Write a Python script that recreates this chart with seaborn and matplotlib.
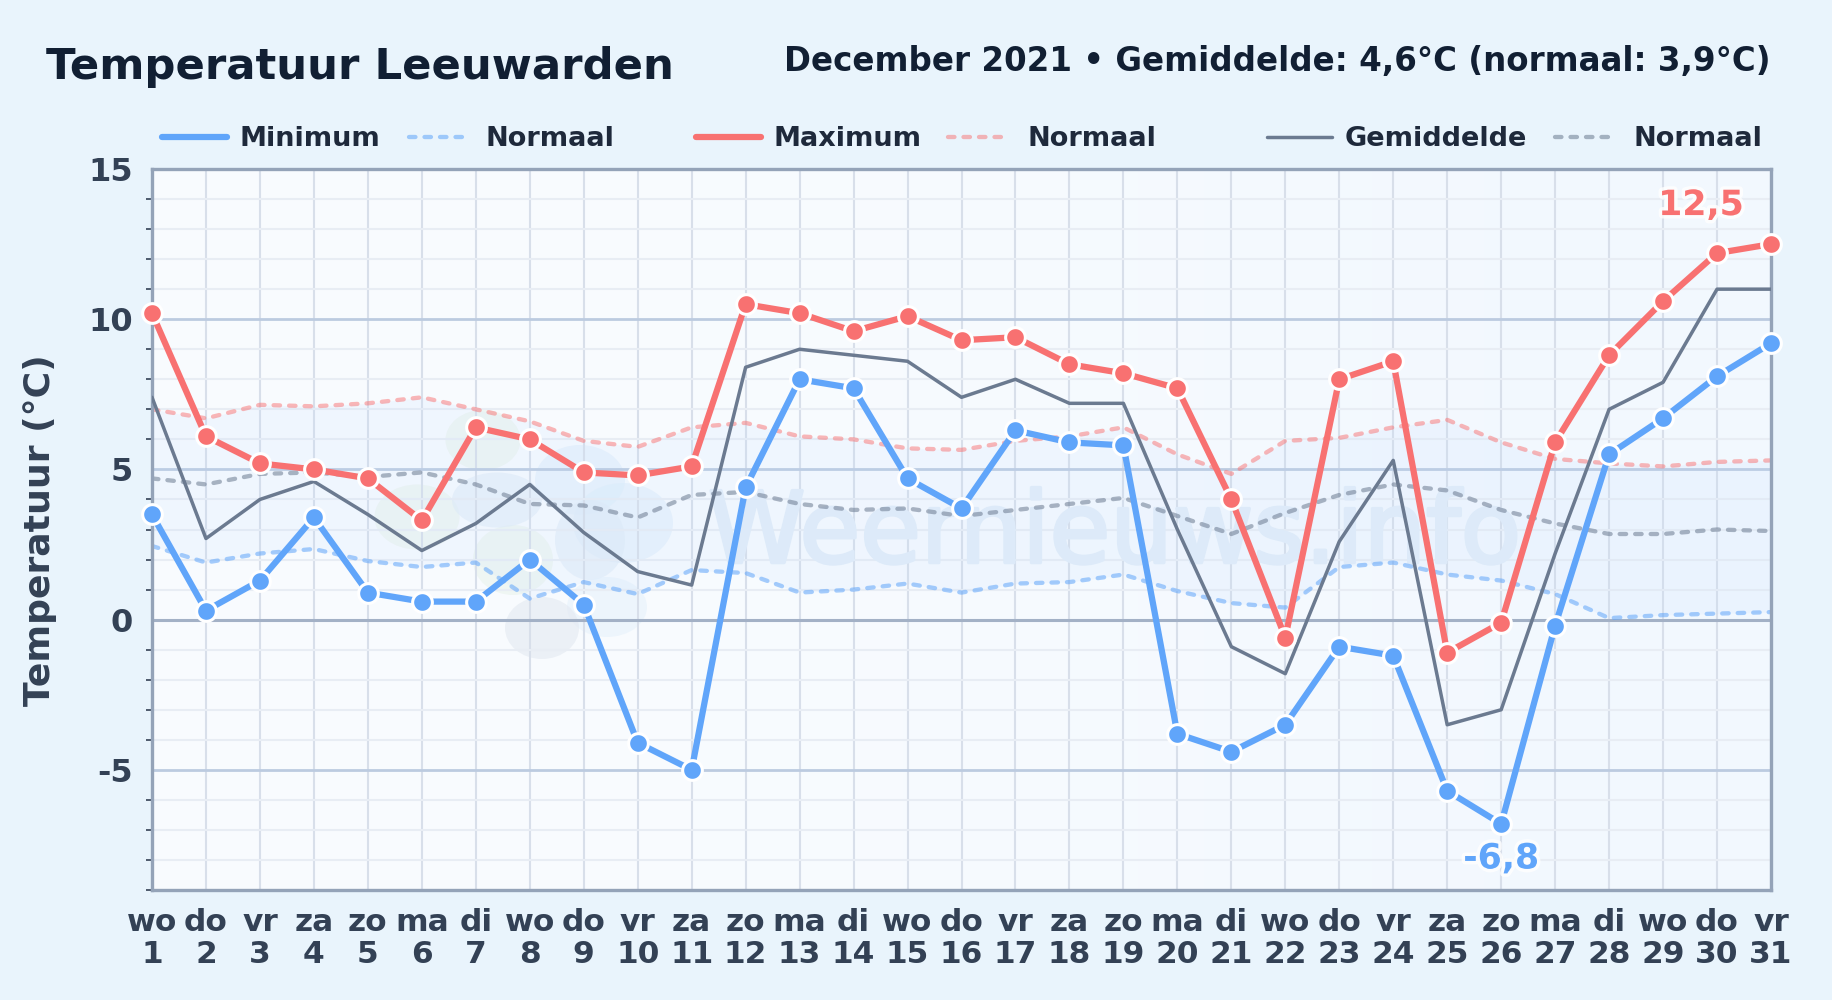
import numpy as np
import pandas as pd
import matplotlib.pyplot as plt
import matplotlib.patheffects as pe
from matplotlib.colors import LinearSegmentedColormap
from matplotlib.patches import Ellipse
from matplotlib.ticker import MultipleLocator
import seaborn as sns

days = list(range(1, 32))
weekdays = ['wo', 'do', 'vr', 'za', 'zo', 'ma', 'di'] * 4 + ['wo', 'do', 'vr']

temp_min = [3.5, 0.3, 1.3, 3.4, 0.9, 0.6, 0.6, 2.0, 0.5, -4.1, -5.0, 4.4, 8.0, 7.7, 4.7, 3.7,
            6.3, 5.9, 5.8, -3.8, -4.4, -3.5, -0.9, -1.2, -5.7, -6.8, -0.2, 5.5, 6.7, 8.1, 9.2]
temp_max = [10.2, 6.1, 5.2, 5.0, 4.7, 3.3, 6.4, 6.0, 4.9, 4.8, 5.1, 10.5, 10.2, 9.6, 10.1, 9.3,
            9.4, 8.5, 8.2, 7.7, 4.0, -0.6, 8.0, 8.6, -1.1, -0.1, 5.9, 8.8, 10.6, 12.2, 12.5]
temp_mean = [7.4, 2.7, 4.0, 4.6, 3.5, 2.3, 3.2, 4.5, 2.9, 1.6, 1.15, 8.4, 9.0, 8.8, 8.6, 7.4,
             8.0, 7.2, 7.2, 3.0, -0.9, -1.8, 2.6, 5.3, -3.5, -3.0, 2.2, 7.0, 7.9, 11.0, 11.0]
norm_min = [2.45, 1.9, 2.2, 2.35, 1.95, 1.75, 1.9, 0.7, 1.25, 0.85, 1.65, 1.55, 0.9, 1.0, 1.2, 0.9,
            1.2, 1.25, 1.5, 0.95, 0.55, 0.4, 1.75, 1.9, 1.5, 1.3, 0.85, 0.05, 0.15, 0.2, 0.25]
norm_max = [7.0, 6.7, 7.15, 7.1, 7.2, 7.4, 7.0, 6.6, 5.95, 5.75, 6.4, 6.55, 6.1, 6.0, 5.7, 5.65,
            5.95, 6.1, 6.4, 5.5, 4.85, 5.95, 6.05, 6.4, 6.65, 5.9, 5.35, 5.2, 5.1, 5.25, 5.3]
norm_mean = [4.7, 4.5, 4.85, 4.9, 4.75, 4.9, 4.5, 3.85, 3.8, 3.4, 4.15, 4.25, 3.85, 3.65, 3.7, 3.45,
             3.65, 3.85, 4.05, 3.45, 2.85, 3.55, 4.15, 4.5, 4.3, 3.65, 3.2, 2.85, 2.85, 3.0, 2.95]

BLUE = '#60a5fa'
RED = '#f87171'
GRAY = '#6b7a90'
DARK = '#111f33'
TICK = '#334155'

df = pd.DataFrame({'day': days, 'min': temp_min, 'max': temp_max, 'mean': temp_mean,
                   'nmin': norm_min, 'nmax': norm_max, 'nmean': norm_mean})

sns.set_theme(style='white')
plt.rcParams['font.family'] = ['DejaVu Sans']

W, H = 1832, 1000
fig = plt.figure(figsize=(W / 100, H / 100), dpi=100, facecolor='#e9f4fc')
ax = fig.add_axes([152 / W, 1 - 890 / H, (1771 - 152) / W, (890 - 169) / H])
ax.set_facecolor('#f7fbff')

# soft gradient behind the plot
grad = np.array([[0.0, 0.15, 0.5, 1.0]])
ax.imshow(grad, extent=(1, 31, -9, 15), aspect='auto', zorder=0, interpolation='bicubic',
          cmap=LinearSegmentedColormap.from_list('bg', ['#f9fcff', '#f2f8fe']))

# watermark logo, blobs given in image pixels (x, y, width, height)
logo = [(483, 440, 75, 60, '#e9f3ec'), (417, 517, 85, 65, '#e9f3ec'), (513, 560, 80, 70, '#e9f3ec'),
        (497, 500, 90, 55, '#e1ecf8'), (580, 480, 90, 70, '#e0eefb'), (623, 523, 100, 80, '#e0eefb'),
        (590, 540, 70, 80, '#e1ecf8'), (607, 607, 80, 60, '#e6f2fc'), (542, 628, 74, 62, '#e3e9f1')]
px_x = 1619 / 30
px_y = 721 / 24
for x, y, w, h, c in logo:
    ax.add_patch(Ellipse(((x - 152) / px_x + 1, 15 - (y - 169) / px_y), w / px_x, h / px_y,
                         color=c, alpha=0.6, lw=0, zorder=0.5))
ax.text(11.3, 1.9, 'Weernieuws.info', fontsize=71, color='#e2edf9', ha='left', va='baseline', zorder=0.6,
        path_effects=[pe.withStroke(linewidth=2.5, foreground='#e2edf9')])

ax.fill_between(df['day'], df['nmin'], df['nmax'], color='#bfdbfe', alpha=0.14, lw=0, zorder=0.7)

ax.set_xlim(1, 31)
ax.set_ylim(-9, 15)
ax.xaxis.set_major_locator(MultipleLocator(1))
ax.yaxis.set_major_locator(MultipleLocator(5))
ax.yaxis.set_minor_locator(MultipleLocator(1))
ax.grid(which='major', axis='y', color='#bccbe0', lw=2, zorder=1)
ax.grid(which='minor', axis='y', color='#e8edf4', lw=1.5, zorder=1)
ax.grid(which='major', axis='x', color='#d8dfea', lw=1.5, zorder=1)
ax.axhline(0, color='#a3b1c6', lw=2.2, zorder=1.1)
ax.set_axisbelow(True)

dash = (0, (1.5, 2.1))
lines = {}
for col, color, alpha in [('nmax', RED, 0.5), ('nmin', BLUE, 0.55), ('nmean', GRAY, 0.55)]:
    sns.lineplot(data=df, x='day', y=col, color=color, alpha=alpha, lw=3.1, ax=ax, zorder=2,
                 errorbar=None, dash_capstyle='round', linestyle=dash)
    lines[col] = ax.lines[-1]

sns.lineplot(data=df, x='day', y='mean', color=GRAY, lw=2.5, ax=ax, zorder=3, errorbar=None)
lines['mean'] = ax.lines[-1]
for col, color in [('min', BLUE), ('max', RED)]:
    sns.lineplot(data=df, x='day', y=col, color=color, lw=4.5, ax=ax, zorder=4, errorbar=None,
                 marker='o', markersize=14.2, markeredgecolor='white', markeredgewidth=2.2, clip_on=False)
    lines[col] = ax.lines[-1]

halo = [pe.withStroke(linewidth=5, foreground='white', alpha=0.8)]
ax.text(29.7, 13.8, '12,5', color=RED, fontsize=25, fontweight='bold', ha='center', va='center',
        path_effects=halo, zorder=5)
ax.text(26, -7.95, '-6,8', color=BLUE, fontsize=25, fontweight='bold', ha='center', va='center',
        path_effects=halo, zorder=5)

ax.set_xticks(days)
ax.set_xticklabels([f'{w}\n{d}' for w, d in zip(weekdays, days)], fontsize=22.5, fontweight='bold',
                   color=TICK, linespacing=1.14)
ax.set_yticks([-5, 0, 5, 10, 15])
ax.set_yticklabels(['-5', '0', '5', '10', '15'], fontsize=23, fontweight='bold', color=TICK)
ax.tick_params(axis='x', which='major', length=0, pad=13)
ax.tick_params(axis='y', which='major', length=0, pad=14)
ax.tick_params(axis='y', which='minor', left=True, length=4, width=1.2, color='#334155')
ax.set_xlabel('')
ax.set_ylabel('')
for s in ax.spines.values():
    s.set_color('#94a3b8')
    s.set_linewidth(2.4)

fig.text(40 / W, 1 - 530 / H, 'Temperatuur (°C)', rotation=90, fontsize=26.1, fontweight='bold',
         color=TICK, ha='center', va='center')
fig.text(46 / W, 1 - 67 / H, 'Temperatuur Leeuwarden', fontsize=31.2, fontweight='bold', color=DARK,
         ha='left', va='center')
fig.text(1771 / W, 1 - 61 / H, 'December 2021 • Gemiddelde: 4,6°C (normaal: 3,9°C)', fontsize=23.45,
         fontweight='bold', color=DARK, ha='right', va='center')

# legend entries, one per line, spaced as in the site header
legend_items = [('min', 'Minimum', 162, 65, 240), ('nmin', 'Normaal', 409, 56, 486),
                ('max', 'Maximum', 696, 65, 773), ('nmax', 'Normaal', 948, 56, 1027),
                ('mean', 'Gemiddelde', 1267, 65, 1345), ('nmean', 'Normaal', 1555, 62, 1633)]
for key, label, x0, length, xt in legend_items:
    src = lines[key]
    proxy = plt.Line2D([], [], color=src.get_color(), alpha=src.get_alpha(), lw=src.get_linewidth(),
                       linestyle=src.get_linestyle() if key in ('min', 'max', 'mean') else dash,
                       solid_capstyle='round', dash_capstyle='round')
    fs = 19.5
    leg = fig.legend([proxy], [label], loc='center left', bbox_to_anchor=(x0 / W, 1 - 139 / H),
                     frameon=False, borderpad=0, borderaxespad=0, handlelength=length / (fs * 100 / 72),
                     handletextpad=(xt - x0 - length) / (fs * 100 / 72),
                     prop={'size': fs, 'weight': 'bold'}, labelcolor='#1e293b')

fig.savefig('out.png', dpi=100, facecolor=fig.get_facecolor())
